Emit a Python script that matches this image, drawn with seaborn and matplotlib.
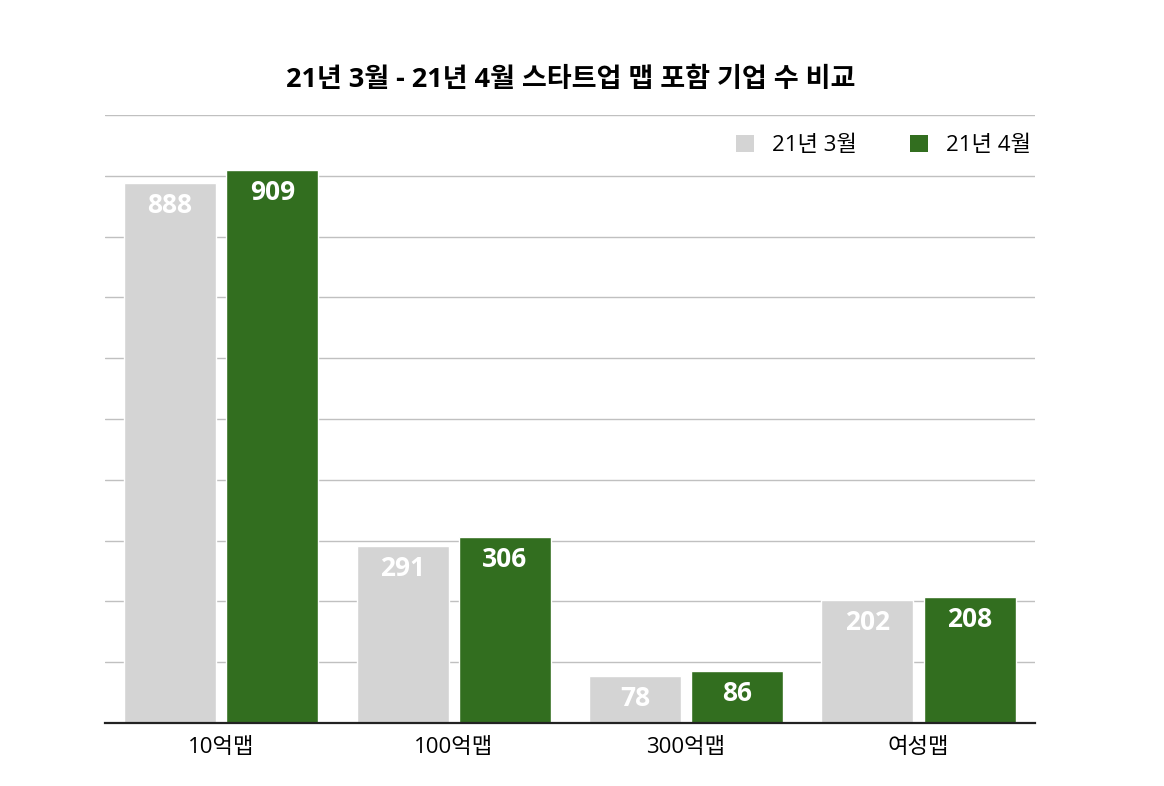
import pandas as pd
import seaborn as sns
import matplotlib.pyplot as plt
from matplotlib.patches import Patch

# 21년 3월 vs 4월 스타트업 맵 포함 기업 수
categories = ['10억맵', '100억맵', '300억맵', '여성맵']
march = [888, 291, 78, 202]
april = [909, 306, 86, 208]
series_names = ['21년 3월', '21년 4월']
colors = ['#d4d4d4', '#326e1f']

df = pd.DataFrame({
    'map': categories * 2,
    'count': march + april,
    'month': [series_names[0]] * 4 + [series_names[1]] * 4,
})

sns.set_style('white')
plt.rcParams['font.family'] = ['Open Sans', 'Noto Sans CJK KR', 'DejaVu Sans']
plt.rcParams['text.color'] = 'black'
plt.rcParams['xtick.color'] = 'black'

fig = plt.figure(figsize=(11.64, 7.86), dpi=100)
ax = fig.add_axes([0.0902, 0.0802, 0.7988, 0.7735])

sns.barplot(data=df, x='map', y='count', hue='month', palette=colors,
            width=0.88, gap=0.1, saturation=1, legend=False, ax=ax)

ax.set_ylim(0, 1000)
ax.set_yticks(range(0, 1001, 100))
ax.set_yticklabels([])
ax.yaxis.grid(True, color='#c0c0c0', linewidth=1)
ax.set_axisbelow(True)
ax.tick_params(axis='both', length=0)
ax.tick_params(axis='x', labelsize=16, pad=10, labelcolor='black')
ax.set_xlabel('')
ax.set_ylabel('')
for side in ['top', 'left', 'right']:
    ax.spines[side].set_visible(False)
ax.spines['bottom'].set_color('#222222')
ax.spines['bottom'].set_linewidth(1.6)

for cont in ax.containers:
    ax.bar_label(cont, fmt='%d', padding=-26, color='white',
                 fontsize=19, fontweight='bold')

handles = [Patch(facecolor=c, edgecolor='none') for c in colors]
ax.legend(handles, series_names, loc='upper right', bbox_to_anchor=(1.017, 1.0),
          ncol=2, frameon=False, fontsize=16, handlelength=0.8, handleheight=0.8,
          columnspacing=2.4, handletextpad=0.8, labelcolor='black')

fig.suptitle('21년 3월 - 21년 4월 스타트업 맵 포함 기업 수 비교', x=0.49, y=0.915,
             fontsize=19.5, fontweight='bold', color='black')

fig.savefig('out.png', dpi=100)
